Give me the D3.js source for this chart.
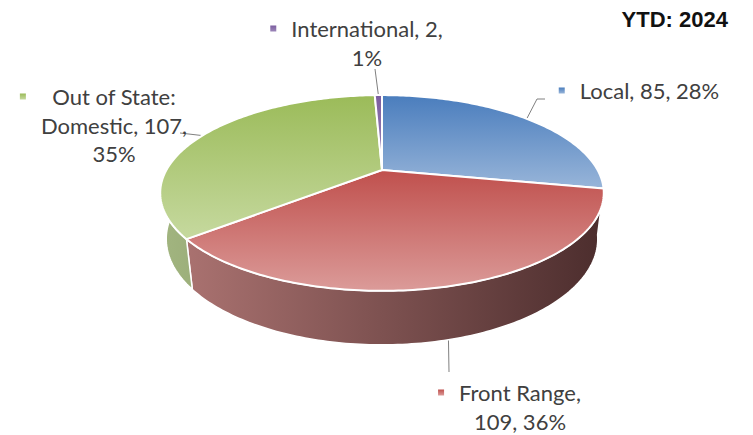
<!DOCTYPE html>
<html>
<head>
<meta charset="utf-8">
<script src="https://cdn.jsdelivr.net/npm/d3@7"></script>
<style>
  body { margin: 0; background: #fff; }
  svg { display: block; }
</style>
</head>
<body>
<div id="chart"></div>
<script>
// data
var categories = ["Local", "Front Range", "Out of State: Domestic", "International"];
var values = [85, 109, 107, 2];
var percents = ["28%", "36%", "35%", "1%"];
var title = "YTD: 2024";

// styles
var topColors = [["#4a7dbd", "#98b5d9"], ["#c0504d", "#db9b99"], ["#9bbb59", "#c6d99f"], ["#7b5e9f", "#9c86b9"]];
var sideColors = [["#6c8fb8", "#2e4866"], ["#ae7573", "#4d2e2e"], ["#a1b47f", "#56663a"], ["#8b79a3", "#40305a"]];

var width = 753, height = 435;

var svg = d3.select("#chart").append("svg")
    .attr("width", width)
    .attr("height", height);

var defs = svg.append("defs");

// perspective camera for the 3d pie
var cx = 382, cy = 170,
    focal = 830,
    dist = 3.85,
    tilt = Math.asin(0.429),
    thick = 0.236;

function project(a, h) {
  var u = Math.sin(a), v = Math.cos(a);
  var depth = dist + v * Math.cos(tilt) + h * thick * Math.sin(tilt);
  var up = v * Math.sin(tilt) - h * thick * Math.cos(tilt);
  return [cx + focal * u / depth, cy - focal * up / depth];
}

function arcPoints(a0, a1, h) {
  var n = Math.max(2, Math.ceil((a1 - a0) / (Math.PI / 180)));
  return d3.range(n + 1).map(function(i) { return project(a0 + (a1 - a0) * i / n, h); });
}

var pie = d3.pie().sort(null).value(function(d) { return d; });
var arcs = pie(values);
var line = d3.line();

// gradients
arcs.forEach(function(d, i) {
  var g = defs.append("linearGradient").attr("id", "top" + i)
      .attr("x1", 0).attr("y1", 0).attr("x2", 0).attr("y2", 1);
  g.append("stop").attr("offset", "0%").attr("stop-color", topColors[i][0]);
  g.append("stop").attr("offset", "100%").attr("stop-color", topColors[i][1]);

  var s = defs.append("linearGradient").attr("id", "side" + i)
      .attr("gradientUnits", "userSpaceOnUse")
      .attr("x1", project(-Math.PI / 2, 0)[0]).attr("y1", 0)
      .attr("x2", project(Math.PI / 2, 0)[0]).attr("y2", 0);
  s.append("stop").attr("offset", "0%").attr("stop-color", sideColors[i][0]);
  s.append("stop").attr("offset", "100%").attr("stop-color", sideColors[i][1]);
});

var pieG = svg.append("g");

// outer walls first, tops cover the back half
pieG.selectAll("path.side").data(arcs).enter().append("path")
    .attr("class", "side")
    .attr("d", function(d) {
      var pts = arcPoints(d.startAngle, d.endAngle, 0)
          .concat(arcPoints(d.startAngle, d.endAngle, 1).reverse());
      return line(pts) + "Z";
    })
    .attr("fill", function(d, i) { return "url(#side" + i + ")"; })
    .attr("stroke", "#fff")
    .attr("stroke-width", 1.5)
    .attr("stroke-linejoin", "round");

pieG.selectAll("path.top").data(arcs).enter().append("path")
    .attr("class", "top")
    .attr("d", function(d) {
      var pts = [[cx, cy]].concat(arcPoints(d.startAngle, d.endAngle, 0));
      return line(pts) + "Z";
    })
    .attr("fill", function(d, i) { return "url(#top" + i + ")"; })
    .attr("stroke", "#fff")
    .attr("stroke-width", 2)
    .attr("stroke-linejoin", "round");

// labels
var labelLayout = [
  { x: 649.5, y: 99, wrap: 200, leader: [[545, 99], [537, 99]], h: 0 },
  { x: 520, y: 401, wrap: 145, leader: [[449, 372]], h: 1 },
  { x: 114, y: 105, wrap: 165, leader: [[180, 133]], h: 0 },
  { x: 367, y: 37, wrap: 175, leader: [[375, 69]], h: 0 }
];
var lineH = 28.5;

var labels = svg.append("g")
    .attr("font-family", "Lato, 'Open Sans', sans-serif")
    .attr("font-size", 22)
    .attr("fill", "#404040");

arcs.forEach(function(d, i) {
  var lay = labelLayout[i];
  var mid = (d.startAngle + d.endAngle) / 2;
  var edge = project(mid, lay.h);

  svg.insert("path", "g")
      .attr("d", line(lay.leader.concat([edge])))
      .attr("fill", "none")
      .attr("stroke", "#808080")
      .attr("stroke-width", 1);

  var words = (categories[i] + ", " + values[i] + ", " + percents[i]).split(" ");
  var lines = [], cur = [];
  var probe = labels.append("text");
  words.forEach(function(w) {
    var test = cur.concat([w]).join(" ");
    probe.text(test);
    if (cur.length && probe.node().getComputedTextLength() > lay.wrap) {
      lines.push(cur.join(" "));
      cur = [w];
    } else {
      cur.push(w);
    }
  });
  lines.push(cur.join(" "));
  probe.remove();

  var maxW = 0;
  lines.forEach(function(t, k) {
    var tx = labels.append("text")
        .attr("x", lay.x)
        .attr("y", lay.y + k * lineH)
        .attr("text-anchor", "middle")
        .text(t);
    maxW = Math.max(maxW, tx.node().getComputedTextLength());
  });

  labels.append("rect")
      .attr("x", lay.x - maxW / 2 - 21)
      .attr("y", lay.y - 11.5)
      .attr("width", 6)
      .attr("height", 6)
      .attr("fill", "url(#top" + i + ")");
});

svg.append("text")
    .attr("x", 728)
    .attr("y", 27)
    .attr("text-anchor", "end")
    .attr("font-family", "'Liberation Sans', Arial, sans-serif")
    .attr("font-weight", "bold")
    .attr("font-size", 22)
    .attr("fill", "#111")
    .text(title);
</script>
</body>
</html>
